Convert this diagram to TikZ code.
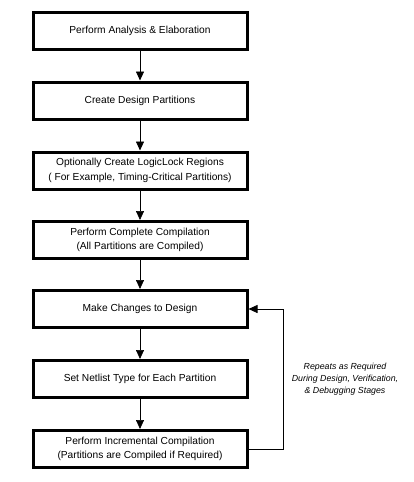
\documentclass[tikz,border=0pt]{standalone}
\usepackage{fontspec}
\setmainfont{Liberation Sans}
\usetikzlibrary{arrows.meta}
\begin{document}
\begin{tikzpicture}[x=1pt,y=-1pt,
  stepbox/.style={draw=black, line width=3pt, minimum width=214pt, minimum height=37pt, inner sep=0pt, align=center, font=\fontsize{10.2}{14.5}\selectfont},
  flow/.style={line width=0.7pt, -{Triangle[length=9pt,width=8pt]}}]
\useasboundingbox (0,0) rectangle (414,482);
\node[stepbox] (a) at (140,31) {Perform Analysis \& Elaboration};
\node[stepbox] (b) at (140,100.5) {Create Design Partitions};
\node[stepbox] (c) at (140,170.5) {Optionally Create LogicLock Regions\\( For Example, Timing-Critical Partitions)};
\node[stepbox] (d) at (140,240) {Perform Complete Compilation\\(All Partitions are Compiled)};
\node[stepbox] (e) at (140,309) {Make Changes to Design};
\node[stepbox] (f) at (140,379) {Set Netlist Type for Each Partition};
\node[stepbox] (g) at (140,449) {Perform Incremental Compilation\\(Partitions are Compiled if Required)};
\draw[flow] (a) -- (b);
\draw[flow] (b) -- (c);
\draw[flow] (c) -- (d);
\draw[flow] (d) -- (e);
\draw[flow] (e) -- (f);
\draw[flow] (f) -- (g);
\coordinate (r) at (283,0);
\draw[flow] (g.east) -- (g.east -| r) -- (e.east -| r) -- (e.east);
\node[font=\fontsize{8.8}{12}\selectfont\itshape, align=center] (lbl) at (345,379) {Repeats as Required\\During Design, Verification,\\\& Debugging Stages};
\end{tikzpicture}
\end{document}
